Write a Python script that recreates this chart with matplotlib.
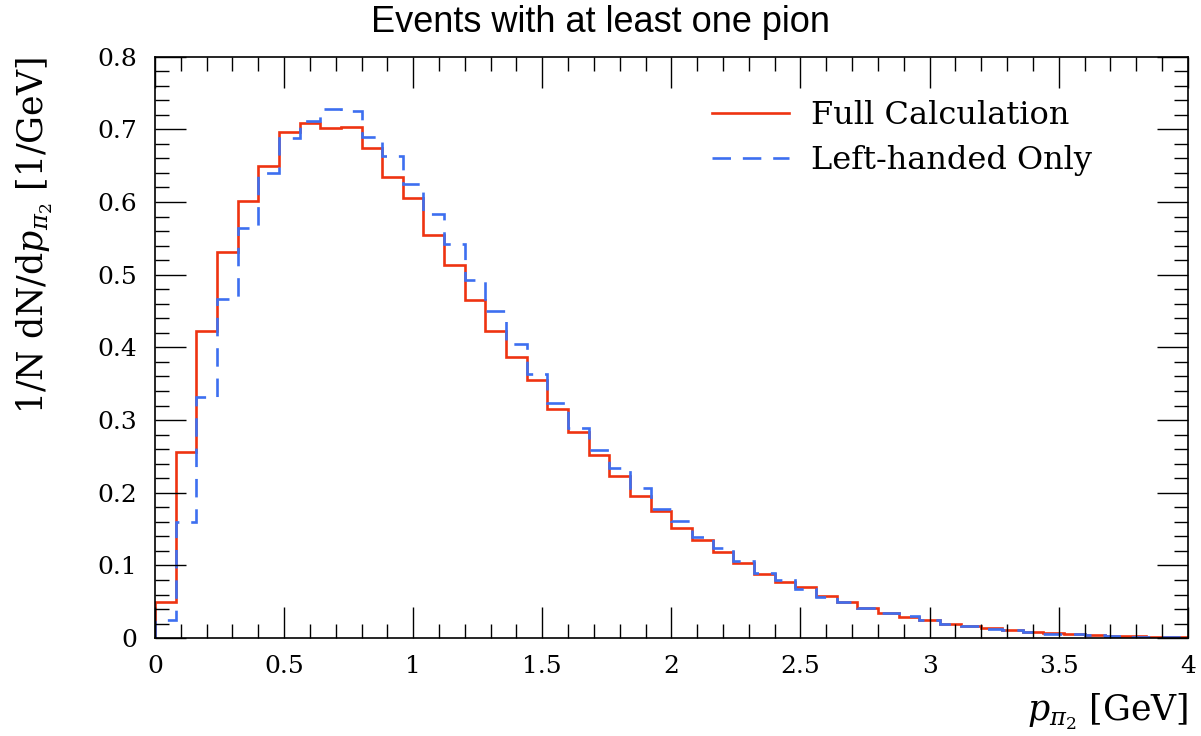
import numpy as np
import matplotlib
matplotlib.use("Agg")
import matplotlib.pyplot as plt
from matplotlib.ticker import MultipleLocator

# 50 bins of 0.08 GeV from 0 to 4 GeV
edges = np.linspace(0.0, 4.0, 51)

full_calc = [0.050, 0.256, 0.423, 0.531, 0.602, 0.649, 0.696, 0.709, 0.702, 0.703,
             0.675, 0.635, 0.605, 0.555, 0.513, 0.465, 0.422, 0.387, 0.355, 0.315,
             0.283, 0.252, 0.223, 0.196, 0.175, 0.152, 0.135, 0.118, 0.104, 0.088,
             0.077, 0.070, 0.058, 0.049, 0.041, 0.034, 0.029, 0.025, 0.020, 0.017,
             0.014, 0.011, 0.009, 0.007, 0.005, 0.004, 0.003, 0.003, 0.002, 0.002]

left_only = [0.025, 0.160, 0.332, 0.467, 0.564, 0.640, 0.688, 0.711, 0.728, 0.725,
             0.689, 0.664, 0.625, 0.584, 0.542, 0.493, 0.450, 0.405, 0.364, 0.324,
             0.289, 0.259, 0.234, 0.206, 0.178, 0.161, 0.139, 0.124, 0.106, 0.089,
             0.080, 0.067, 0.057, 0.049, 0.042, 0.035, 0.030, 0.025, 0.020, 0.016,
             0.013, 0.011, 0.008, 0.006, 0.005, 0.004, 0.003, 0.002, 0.002, 0.002]

red = "#ee3311"
blue = "#3d6ff0"

plt.rcParams["font.family"] = ["DejaVu Serif"]
plt.rcParams["mathtext.fontset"] = "dejavuserif"

fig = plt.figure(figsize=(12.01, 7.36), dpi=100)
ax = fig.add_axes([0.129, 0.133, 0.860, 0.790])

ax.stairs(full_calc, edges, color=red, linewidth=1.9, label="Full Calculation")
ax.stairs(left_only, edges, color=blue, linewidth=1.9, linestyle=(0, (7, 4.5)),
          label="Left-handed Only")

ax.set_xlim(0, 4)
ax.set_ylim(0, 0.8)
ax.xaxis.set_major_locator(MultipleLocator(0.5))
ax.xaxis.set_minor_locator(MultipleLocator(0.1))
ax.yaxis.set_major_locator(MultipleLocator(0.1))
ax.yaxis.set_minor_locator(MultipleLocator(0.02))
ax.xaxis.set_major_formatter(plt.FuncFormatter(lambda v, p: "%g" % v))
ax.yaxis.set_major_formatter(plt.FuncFormatter(lambda v, p: "%g" % v))
ax.tick_params(which="both", direction="in", top=True, right=True, width=1.0,
               labelsize=18)
ax.tick_params(which="major", length=22, pad=12)
ax.tick_params(which="minor", length=10)
ax.tick_params(axis="y", which="major", pad=13)
for s in ax.spines.values():
    s.set_linewidth(1.2)

# title is centred on the figure, not on the axes
fig.text(0.5, 0.970, "Events with at least one pion", fontsize=26,
         family=["Liberation Sans", "DejaVu Sans"], ha="center", va="center")
ax.set_xlabel(r"$p_{\pi_2}$ [GeV]", fontsize=25, loc="right", labelpad=10)
ax.set_ylabel(r"1/N dN/d$p_{\pi_2}$ [1/GeV]", fontsize=25, loc="top", labelpad=30)

ax.legend(loc="upper right", frameon=False, fontsize=23, handlelength=2.4,
          handletextpad=0.7, bbox_to_anchor=(0.935, 0.975), labelspacing=0.45)

fig.savefig("out.png", dpi=100)
